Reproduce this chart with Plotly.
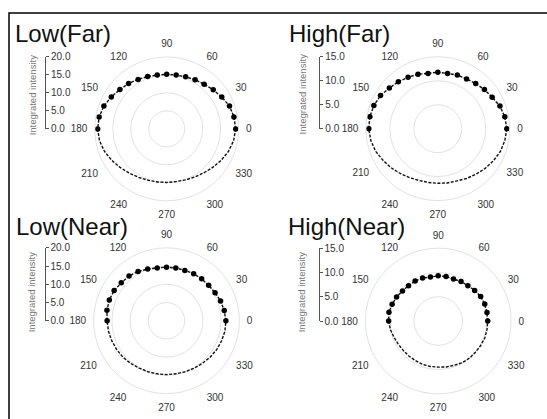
import plotly.graph_objects as go

W, H = 547, 419

# ---------------- data ----------------
angles = list(range(0, 361, 10))          # dashed curve, degrees
marker_angles = list(range(0, 181, 10))   # markers on upper half
angle_ticks = list(range(0, 360, 30))

titles = ["Low(Far)", "High(Far)", "Low(Near)", "High(Near)"]
radial_max = [20, 15, 20, 15]
radial_ticks_20 = [0, 5, 10, 15, 20]
radial_ticks_15 = [0, 5, 10, 15]

low_far = [19.2, 19.0, 18.6, 17.7, 16.9, 16.2, 15.8, 15.4, 15.2, 15.2,
           15.2, 15.5, 15.9, 16.5, 17.0, 17.8, 18.6, 19.1, 19.2,
           19.0, 18.4, 17.6, 16.8, 16.1, 15.6, 15.2, 15.0, 14.9,
           14.9, 15.1, 15.5, 16.0, 16.7, 17.5, 18.3, 18.9, 19.2]
high_far = [14.4, 14.2, 13.8, 13.1, 12.7, 12.3, 12.0, 11.9, 11.7, 11.8,
            11.7, 12.1, 12.4, 12.8, 13.2, 13.8, 14.2, 14.4, 14.4,
            14.2, 13.8, 13.2, 12.7, 12.2, 11.8, 11.5, 11.4, 11.4,
            11.5, 11.6, 12.0, 12.4, 12.9, 13.4, 13.9, 14.2, 14.4]
low_near = [16.3, 16.1, 15.8, 15.4, 15.1, 15.0, 14.9, 14.7, 14.7, 14.7,
            14.7, 15.1, 15.6, 16.0, 16.2, 16.6, 16.7, 16.6, 16.3,
            16.2, 16.0, 15.8, 15.6, 15.3, 15.0, 14.9, 14.8, 14.8,
            14.8, 14.9, 15.1, 15.3, 15.6, 15.9, 16.1, 16.3, 16.3]
high_near = [10.2, 10.2, 10.2, 10.1, 9.8, 9.5, 9.4, 9.2, 9.3, 9.3,
             9.2, 9.4, 9.5, 9.5, 9.6, 9.9, 10.1, 10.3, 10.2,
             10.0, 9.7, 9.5, 9.4, 9.4, 9.4, 9.5, 9.5, 9.5,
             9.6, 9.7, 9.9, 10.0, 10.0, 10.1, 10.2, 10.2, 10.2]
series = [low_far, high_far, low_near, high_near]

# ---------------- layout geometry (pixels) ----------------
panels = [
    dict(cx=166.7, cy=126.5, R=74, axx=45.0, ttx=32.0, tty=92, tlx=12.5, tly=28.3),
    dict(cx=437.8, cy=126.3, R=74, axx=319.3, ttx=302.0, tty=91, tlx=286.5, tly=28.3),
    dict(cx=166.5, cy=324.0, R=75, axx=44.5, ttx=31.7, tty=294, tlx=13.5, tly=226.8),
    dict(cx=438.2, cy=324.3, R=75, axx=318.5, ttx=301.7, tty=294, tlx=285.5, tly=226.8),
]

FONT = "Arial, Liberation Sans, Helvetica, sans-serif"
GRID = "#e2e2e2"

def px(x):
    return x / W

def py(y):
    return 1 - y / H

fig = go.Figure()
layout = dict(width=W, height=H, autosize=False,
              margin=dict(l=0, r=0, t=0, b=0),
              paper_bgcolor="white", plot_bgcolor="white",
              showlegend=False, font=dict(family=FONT, color="#333"))
annotations = []

for i, (p, vals) in enumerate(zip(panels, series)):
    n = i + 1
    pk = "polar" if n == 1 else f"polar{n}"
    rmax = radial_max[i]
    # polar subplot
    layout[pk] = dict(
        domain=dict(x=[px(p["cx"] - p["R"]), px(p["cx"] + p["R"])],
                    y=[py(p["cy"] + p["R"]), py(p["cy"] - p["R"])]),
        bgcolor="white",
        radialaxis=dict(range=[0, rmax], dtick=5, showticklabels=False,
                        ticks="", showline=False, gridcolor=GRID, gridwidth=1),
        angularaxis=dict(rotation=0, direction="counterclockwise",
                         tickmode="array", tickvals=angle_ticks,
                         ticktext=[str(a) for a in angle_ticks],
                         showgrid=False, showline=True, linecolor=GRID,
                         linewidth=1, ticks="outside", ticklen=5,
                         tickcolor="rgba(0,0,0,0)",
                         tickfont=dict(size=10, color="#333", family=FONT)),
    )
    fig.add_trace(go.Scatterpolar(
        r=vals, theta=angles, mode="lines", subplot=pk,
        line=dict(color="#111", width=1.4, dash="3px,1.5px"),
        hoverinfo="skip"))
    fig.add_trace(go.Scatterpolar(
        r=vals[:len(marker_angles)], theta=marker_angles, mode="markers",
        subplot=pk, marker=dict(color="#000", size=5.5),
        hoverinfo="skip"))

    # radial scale replica as a cartesian y axis
    xk, yk = f"xaxis{n}", f"yaxis{n}"
    layout[xk] = dict(domain=[px(p["axx"] - 5), px(p["axx"])], visible=False,
                      anchor=f"y{n}", range=[0, 1], fixedrange=True)
    ticks = radial_ticks_20 if rmax == 20 else radial_ticks_15
    layout[yk] = dict(domain=[py(p["cy"]), py(p["cy"] - p["R"])],
                      anchor=f"x{n}", side="right", range=[0, rmax],
                      tickmode="array", tickvals=ticks,
                      ticktext=[f"{t:.1f}" for t in ticks],
                      ticks="outside", ticklen=3, tickcolor="#555",
                      showline=True, linecolor="#555", linewidth=1,
                      showgrid=False, zeroline=False, fixedrange=True,
                      tickfont=dict(size=10, color="#333", family=FONT))
    fig.add_trace(go.Scatter(x=[None], y=[None], xaxis=f"x{n}", yaxis=f"y{n}",
                             mode="markers", hoverinfo="skip"))

    annotations.append(dict(text="Integrated intensity", textangle=-90,
                            x=px(p["ttx"]), y=py(p["tty"]), xref="paper",
                            yref="paper", showarrow=False, xanchor="center",
                            yanchor="middle",
                            font=dict(size=9.5, color="#777", family=FONT)))
    annotations.append(dict(text=titles[i], x=px(p["tlx"]), y=py(p["tly"]),
                            xref="paper", yref="paper", showarrow=False,
                            xanchor="left", yanchor="middle",
                            font=dict(size=24, color="#111", family=FONT)))

layout["annotations"] = annotations
layout["shapes"] = [dict(type="rect", xref="paper", yref="paper",
                         x0=px(9), x1=px(W + 20), y0=py(H + 20), y1=py(7.3),
                         line=dict(color="#000", width=1.5))]
fig.update_layout(**layout)
fig.write_html("out.html",
               config={"displayModeBar": False, "staticPlot": True},
               post_script="document.body.style.margin='0';document.body.style.overflow='hidden';")
